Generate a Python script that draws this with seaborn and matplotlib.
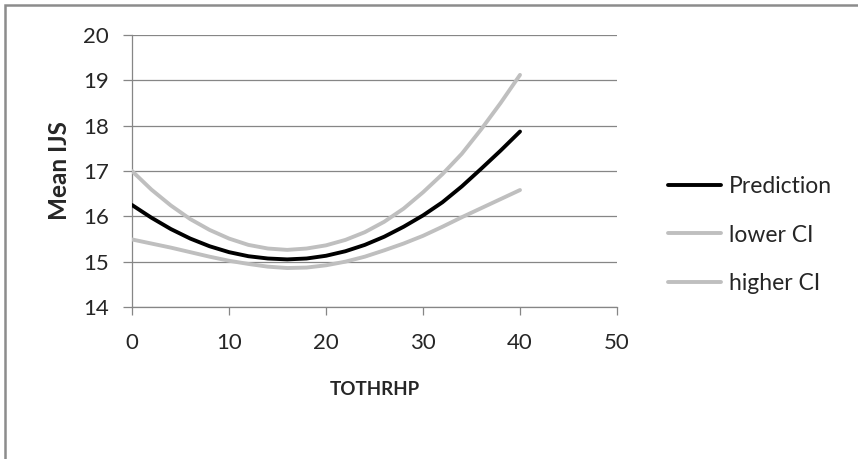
import pandas as pd
import matplotlib
matplotlib.use('Agg')
import matplotlib.pyplot as plt
import seaborn as sns
from matplotlib.patches import Rectangle

# values
tothrhp = [0, 2, 4, 6, 8, 10, 12, 14, 16, 18, 20, 22, 24, 26, 28, 30, 32, 34, 36, 38, 40]
prediction = [16.25, 15.97, 15.72, 15.51, 15.34, 15.21, 15.12, 15.07, 15.05, 15.07, 15.13,
              15.23, 15.37, 15.55, 15.77, 16.02, 16.31, 16.66, 17.05, 17.45, 17.87]
lower_ci = [15.49, 15.40, 15.31, 15.21, 15.11, 15.02, 14.95, 14.89, 14.86, 14.87, 14.92,
            15.00, 15.11, 15.25, 15.40, 15.57, 15.77, 15.98, 16.18, 16.38, 16.58]
higher_ci = [17.00, 16.59, 16.24, 15.94, 15.70, 15.51, 15.37, 15.29, 15.26, 15.29, 15.36,
             15.48, 15.65, 15.88, 16.17, 16.53, 16.93, 17.38, 17.92, 18.50, 19.12]
series_names = ['Prediction', 'lower CI', 'higher CI']
y_ticks = [14, 15, 16, 17, 18, 19, 20]
x_ticks = [0, 10, 20, 30, 40, 50]

df = pd.DataFrame({
    'TOTHRHP': tothrhp * 3,
    'value': prediction + lower_ci + higher_ci,
    'series': [n for n in series_names for _ in tothrhp],
})

sns.set_style('white')
plt.rcParams['font.family'] = ['Lato', 'DejaVu Sans']

fig = plt.figure(figsize=(8.58, 4.59), dpi=100)
ax = fig.add_axes([132 / 858, 1 - 307 / 459, (617 - 132) / 858, (307 - 35) / 459])

grid_col = '#868686'
palette = {'Prediction': '#000000', 'lower CI': '#BFBFBF', 'higher CI': '#BFBFBF'}
sns.lineplot(data=df, x='TOTHRHP', y='value', hue='series', palette=palette,
             linewidth=2.8, ax=ax, legend=True, zorder=3)
for line in ax.get_lines():
    line.set_solid_capstyle('round')

ax.set_xlim(0, 50)
ax.set_ylim(14, 20)
ax.set_xticks(x_ticks)
ax.set_yticks(y_ticks)
ax.grid(axis='y', color=grid_col, linewidth=0.9)
ax.grid(axis='x', visible=False)
for s in ['top', 'right']:
    ax.spines[s].set_visible(False)
for s in ['left', 'bottom']:
    ax.spines[s].set_color(grid_col)
    ax.spines[s].set_linewidth(0.9)
ax.tick_params(axis='y', direction='out', length=6.5, width=0.9, color=grid_col,
               labelsize=16, pad=10, left=True)
ax.tick_params(axis='x', direction='out', length=6, width=0.9, color=grid_col,
               labelsize=16, pad=13, bottom=True)

ax.set_xlabel('TOTHRHP', fontsize=13.5, fontweight='bold', labelpad=20)
ax.set_ylabel('Mean IJS', fontsize=17.5, fontweight='bold', labelpad=9)

handles, labels = ax.get_legend_handles_labels()
ax.legend(handles, labels, loc='center left', bbox_to_anchor=(668 / 858, 1 - 235 / 459),
          bbox_transform=fig.transFigure, frameon=False, fontsize=16.5, handlelength=2.3,
          handletextpad=0.35, labelspacing=1.18, borderaxespad=0, borderpad=0)

# outer chart border (right/bottom edges fall outside the picture)
fig.patches.append(Rectangle((5 / 858, -0.1), 1.2, 1 - 5 / 459 + 0.1, transform=fig.transFigure,
                             fill=False, edgecolor='#8C8C8C', linewidth=1.8))

fig.savefig('out.png', dpi=100)
